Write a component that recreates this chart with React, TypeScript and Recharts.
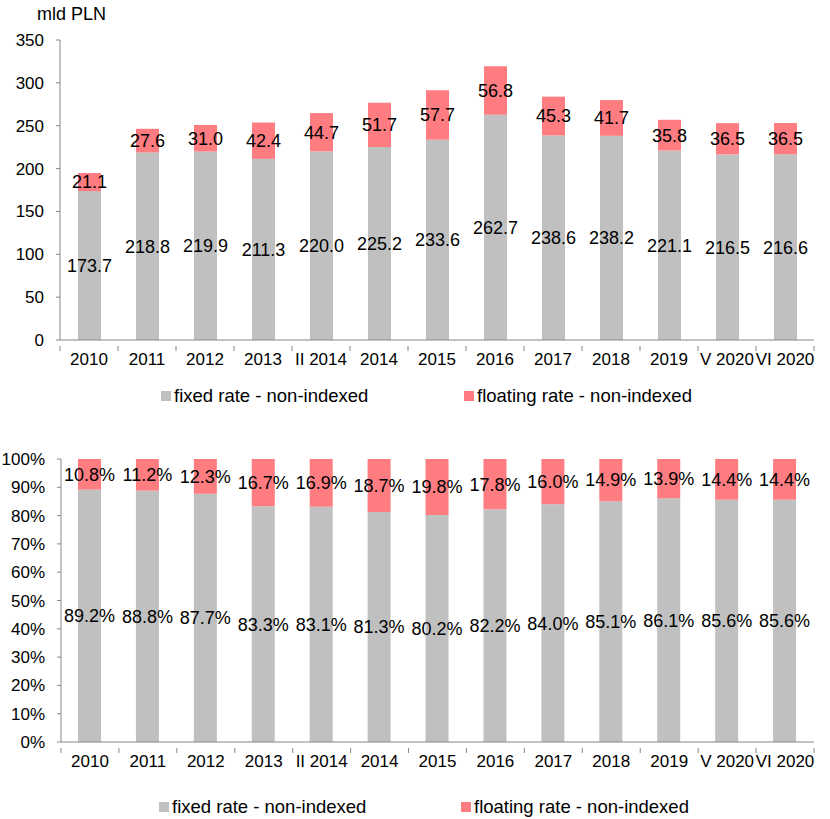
import { BarChart, Bar, XAxis, YAxis, LabelList, Legend } from 'recharts';

const categories = ['2010', '2011', '2012', '2013', 'II 2014', '2014', '2015', '2016', '2017', '2018', '2019', 'V 2020', 'VI 2020'];
const fixedValues = [173.7, 218.8, 219.9, 211.3, 220.0, 225.2, 233.6, 262.7, 238.6, 238.2, 221.1, 216.5, 216.6];
const floatingValues = [21.1, 27.6, 31.0, 42.4, 44.7, 51.7, 57.7, 56.8, 45.3, 41.7, 35.8, 36.5, 36.5];
const fixedShare = [89.2, 88.8, 87.7, 83.3, 83.1, 81.3, 80.2, 82.2, 84.0, 85.1, 86.1, 85.6, 85.6];
const floatingShare = [10.8, 11.2, 12.3, 16.7, 16.9, 18.7, 19.8, 17.8, 16.0, 14.9, 13.9, 14.4, 14.4];
const amountTicks = [0, 50, 100, 150, 200, 250, 300, 350];
const shareTicks = [0, 10, 20, 30, 40, 50, 60, 70, 80, 90, 100];

const amountData = categories.map((name, i) => ({ name, fixed: fixedValues[i], floating: floatingValues[i] }));
const shareData = categories.map((name, i) => ({ name, fixed: fixedShare[i], floating: floatingShare[i] }));

const FONT = '"Liberation Sans", Arial, sans-serif';
const GREY = '#c0c0c0';
const RED = '#ff7c80';
const AXIS = '#868686';

const CategoryTick = (props: any) => {
  const { x, y, payload, index, visibleTicksCount } = props;
  const half = payload && payload.offset ? payload.offset : 29;
  const isLast = index === visibleTicksCount - 1;
  return (
    <g>
      <line x1={x - half} x2={x - half} y1={y - 2} y2={y + 3} stroke={AXIS} />
      {isLast && <line x1={x + half} x2={x + half} y1={y - 2} y2={y + 3} stroke={AXIS} />}
      <text x={x} y={y + 17} textAnchor="middle" fontSize={17} fill="#000" fontFamily={FONT}>
        {payload.value}
      </text>
    </g>
  );
};

const legendContent = (left1: number, left2: number) => () => (
  <div style={{ position: 'relative', height: 22, fontFamily: FONT, fontSize: 18.5, color: '#000' }}>
    <div style={{ position: 'absolute', left: left1, top: 0, display: 'flex', alignItems: 'center', whiteSpace: 'nowrap' }}>
      <span style={{ width: 10, height: 10, background: GREY, display: 'inline-block', marginRight: 3 }} />
      fixed rate - non-indexed
    </div>
    <div style={{ position: 'absolute', left: left2, top: 0, display: 'flex', alignItems: 'center', whiteSpace: 'nowrap' }}>
      <span style={{ width: 10, height: 10, background: RED, display: 'inline-block', marginRight: 3 }} />
      floating rate - non-indexed
    </div>
  </div>
);

const labelStyle = { fontSize: 18, fill: '#000', fontFamily: FONT };

export default function App() {
  return (
    <div style={{ position: 'absolute', left: 0, top: 0, width: 830, height: 819, background: '#fff', fontFamily: FONT }}>
      <div style={{ position: 'absolute', left: 37, top: 4, fontSize: 18, color: '#000' }}>mld PLN</div>
      <div style={{ position: 'absolute', left: 0, top: 0 }}>
        <BarChart width={830} height={410} data={amountData} margin={{ top: 40, right: 16, bottom: 40, left: 0 }}>
          <XAxis dataKey="name" stroke={AXIS} tickLine={false} tick={<CategoryTick />} interval={0} height={30} />
          <YAxis
            domain={[0, 350]}
            ticks={amountTicks}
            width={60}
            stroke={AXIS}
            tickSize={4}
            tickMargin={12}
            tick={{ fontSize: 17, fill: '#000', fontFamily: FONT }}
          />
          <Legend verticalAlign="middle" align="center" layout="horizontal" wrapperStyle={{ top: 385, left: 0, width: 830 }} content={legendContent(161, 464)} />
          <Bar dataKey="fixed" stackId="a" fill={GREY} barSize={23} isAnimationActive={false}>
            <LabelList dataKey="fixed" position="center" formatter={(v: any) => Number(v).toFixed(1)} style={labelStyle} />
          </Bar>
          <Bar dataKey="floating" stackId="a" fill={RED} barSize={23} isAnimationActive={false}>
            <LabelList dataKey="floating" position="center" formatter={(v: any) => Number(v).toFixed(1)} style={labelStyle} />
          </Bar>
        </BarChart>
      </div>
      <div style={{ position: 'absolute', left: 0, top: 430 }}>
        <BarChart width={830} height={389} data={shareData} margin={{ top: 29, right: 16, bottom: 47, left: 0 }}>
          <XAxis dataKey="name" stroke={AXIS} tickLine={false} tick={<CategoryTick />} interval={0} height={30} />
          <YAxis
            domain={[0, 100]}
            ticks={shareTicks}
            width={61}
            stroke={AXIS}
            tickSize={4}
            tickMargin={12}
            tickFormatter={(v: number) => `${v}%`}
            tick={{ fontSize: 17, fill: '#000', fontFamily: FONT }}
          />
          <Legend verticalAlign="middle" align="center" layout="horizontal" wrapperStyle={{ top: 366, left: 0, width: 830 }} content={legendContent(159, 461)} />
          <Bar dataKey="fixed" stackId="b" fill={GREY} barSize={23} isAnimationActive={false}>
            <LabelList dataKey="fixed" position="center" formatter={(v: any) => `${Number(v).toFixed(1)}%`} style={labelStyle} />
          </Bar>
          <Bar dataKey="floating" stackId="b" fill={RED} barSize={23} isAnimationActive={false}>
            <LabelList dataKey="floating" position="center" formatter={(v: any) => `${Number(v).toFixed(1)}%`} style={labelStyle} />
          </Bar>
        </BarChart>
      </div>
    </div>
  );
}
